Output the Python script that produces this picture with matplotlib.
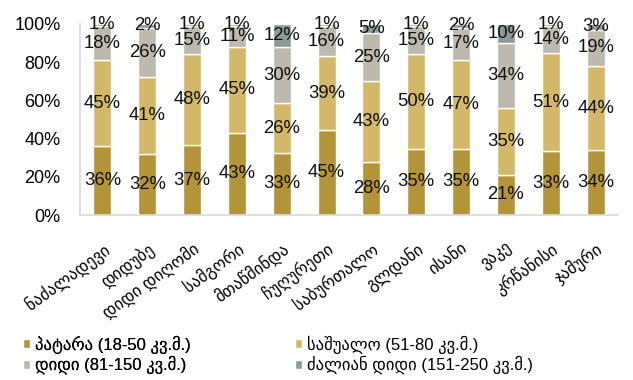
import matplotlib
matplotlib.use("Agg")
import matplotlib.pyplot as plt
import numpy as np

plt.rcParams['font.family'] = ['Liberation Sans', 'DejaVu Sans']

categories = ["ნაძალადევი", "დიდუბე", "დიდი დიღომი", "სამგორი", "მთაწმინდა",
              "ჩუღურეთი", "საბურთალო", "გლდანი", "ისანი", "ვაკე", "კრწანისი", "ჯამური"]
small = [36, 32, 37, 43, 33, 45, 28, 35, 35, 21, 33, 34]
medium = [45, 41, 48, 45, 26, 39, 43, 50, 47, 35, 51, 44]
large = [18, 26, 15, 11, 30, 16, 25, 15, 17, 34, 14, 19]
xlarge = [1, 2, 1, 1, 12, 1, 5, 1, 2, 10, 1, 3]
series_names = ["პატარა (18-50 კვ.მ.)", "საშუალო (51-80 კვ.მ.)",
                "დიდი (81-150 კვ.მ.)", "ძალიან დიდი (151-250 კვ.მ.)"]
colors = ["#B39438", "#D4B869", "#BDB9AE", "#8C9A98"]

data = np.array([small, medium, large, xlarge], dtype=float)
totals = data.sum(axis=0)
norm = data / totals * 100

fig = plt.figure(figsize=(6.33, 3.8), dpi=100)
W, H = 633, 380
ax = fig.add_axes([80 / W, 1 - 215 / H, (618 - 80) / W, (215 - 24) / H])

x = np.arange(len(categories))
bottom = np.zeros(len(categories))
handles = []
for i in range(4):
    b = ax.bar(x, norm[i], 0.4, bottom=bottom, color=colors[i],
               edgecolor="white", linewidth=1.0, label=series_names[i])
    handles.append(b)
    for j in range(len(categories)):
        ax.text(x[j], bottom[j] + norm[i][j] / 2, f"{int(data[i][j])}%",
                ha="center", va="center", fontsize=13.3, color="#111111")
    bottom += norm[i]

ax.set_xlim(-0.5, len(categories) - 0.5)
ax.set_ylim(0, 100)
ax.set_yticks([0, 20, 40, 60, 80, 100])
ax.set_yticklabels([f"{v}%" for v in [0, 20, 40, 60, 80, 100]], fontsize=13)
ax.tick_params(axis='y', length=0, pad=14)
ax.set_xticks(x)
ax.set_xticklabels(categories, rotation=36, ha="right", rotation_mode="anchor",
                   fontsize=12)
ax.tick_params(axis='x', length=0, pad=18)
for s in ["top", "right"]:
    ax.spines[s].set_visible(False)
ax.spines["left"].set_color("#D9D9D9")
ax.spines["bottom"].set_color("#D9D9D9")
ax.spines["left"].set_linewidth(1.2)
ax.spines["bottom"].set_linewidth(1.2)

leg_kw = dict(loc="upper left", frameon=False, fontsize=12, handlelength=0.45,
              handleheight=0.45, handletextpad=0.3, labelspacing=0.12,
              borderaxespad=0)
leg1 = fig.legend([handles[0], handles[2]], [series_names[0], series_names[2]],
                  bbox_to_anchor=(16 / W, 1 - 329 / H), **leg_kw)
leg2 = fig.legend([handles[1], handles[3]], [series_names[1], series_names[3]],
                  bbox_to_anchor=(288 / W, 1 - 329 / H), **leg_kw)
fig.add_artist(leg1)

fig.savefig("out.png", dpi=100)
